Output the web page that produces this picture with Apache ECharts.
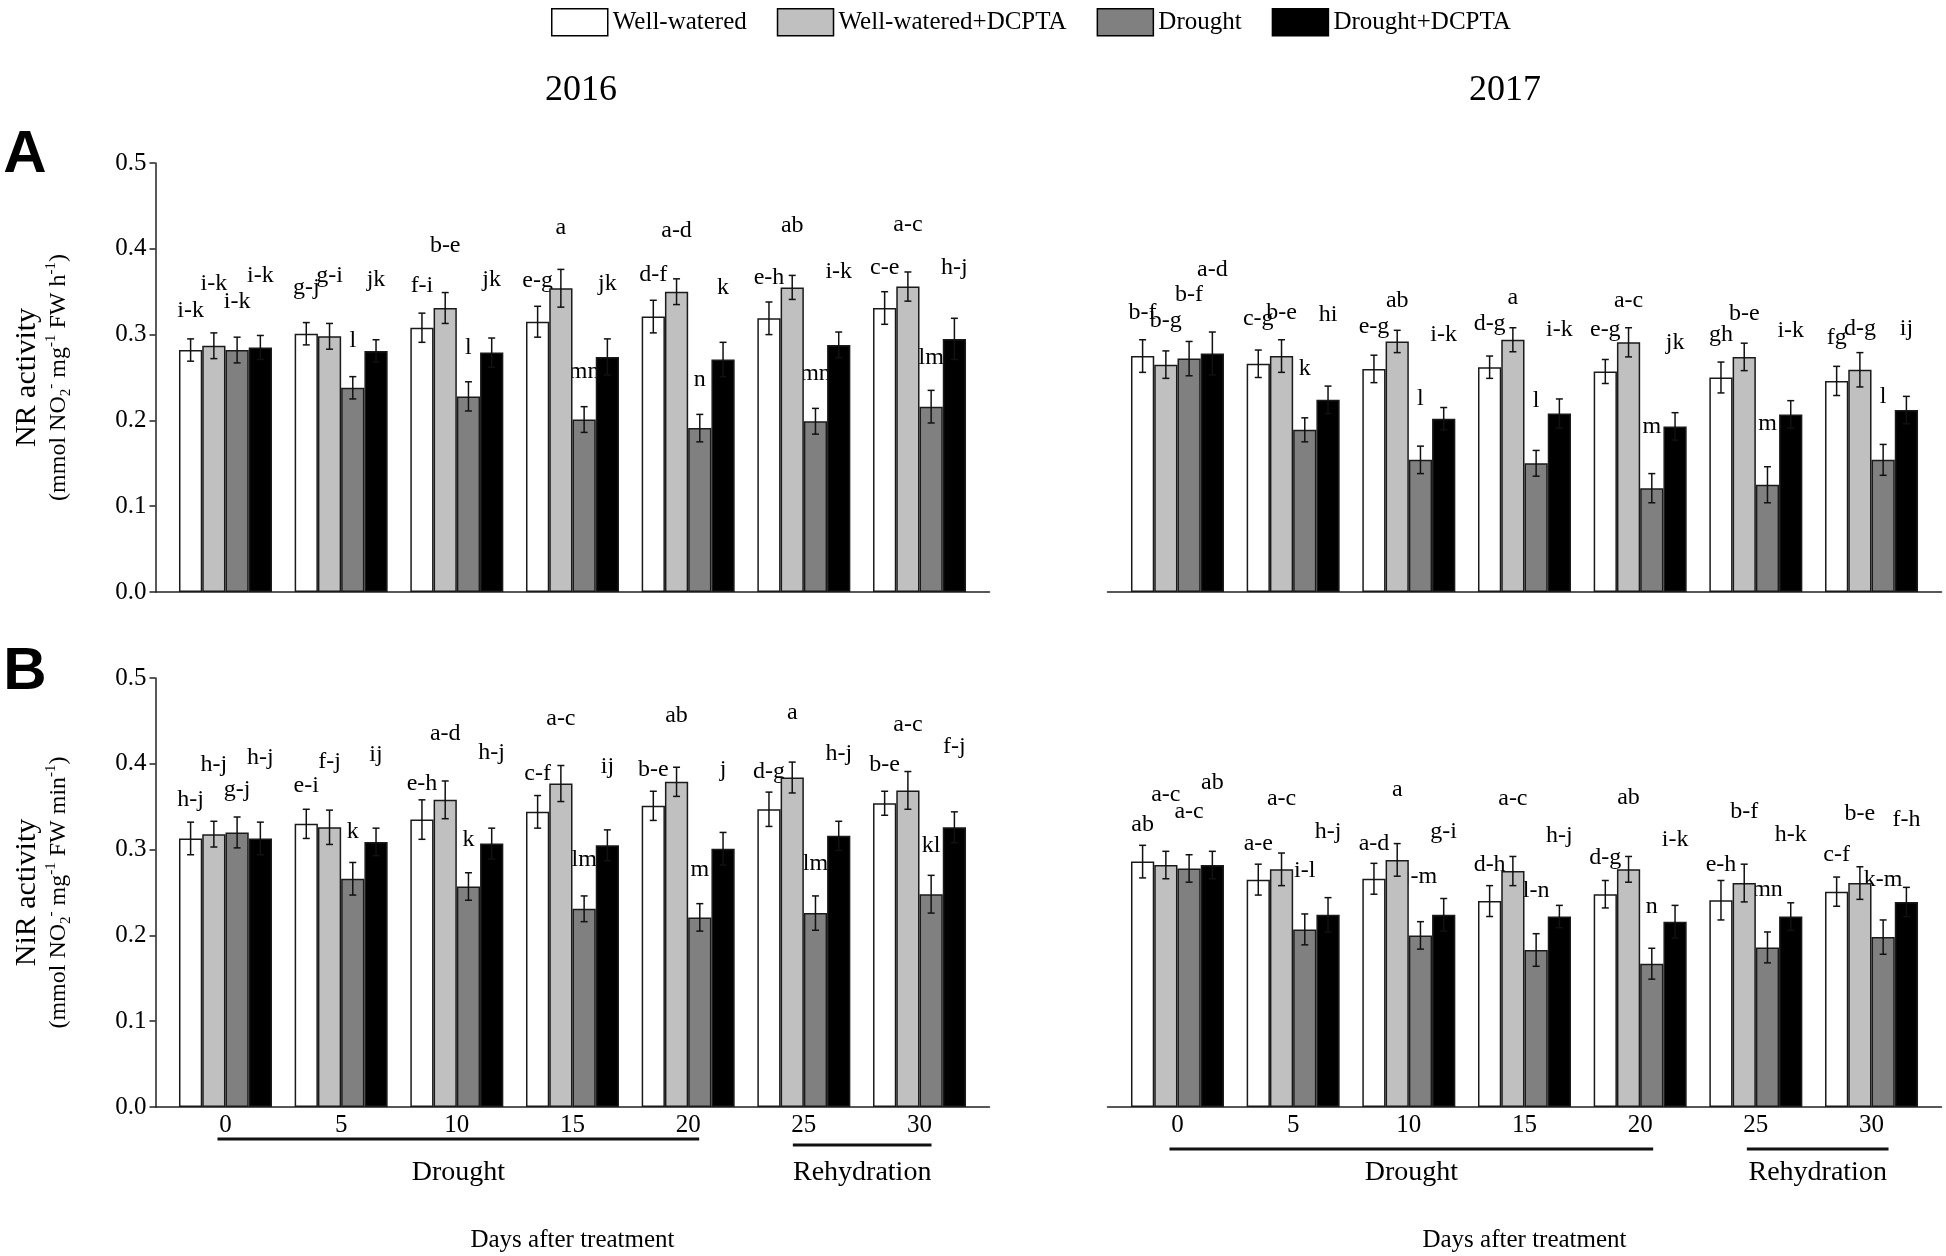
<!DOCTYPE html>
<html>
<head>
<meta charset="utf-8">
<script src="https://cdn.jsdelivr.net/npm/echarts@6/dist/echarts.min.js"></script>
<style>
html,body{margin:0;padding:0;background:#fff;}
#c{width:1946px;height:1256px;}
</style>
</head>
<body>
<div id="c"></div>
<script>
// ---------------- DATA ----------------
const days = ['0', '5', '10', '15', '20', '25', '30'];
const seriesNames = ['Well-watered', 'Well-watered+DCPTA', 'Drought', 'Drought+DCPTA'];
const yTicks = [0, 0.1, 0.2, 0.3, 0.4, 0.5];

// Panel A, 2016: NR activity (rows: Well-watered, WW+DCPTA, Drought, Drought+DCPTA)
const nr2016Mean = [
  [0.282, 0.301, 0.308, 0.315, 0.321, 0.319, 0.331],
  [0.287, 0.298, 0.331, 0.354, 0.350, 0.355, 0.356],
  [0.282, 0.238, 0.228, 0.201, 0.191, 0.199, 0.216],
  [0.285, 0.281, 0.279, 0.274, 0.271, 0.288, 0.295]
];
const nr2016Err = [
  [0.013, 0.013, 0.017, 0.018, 0.019, 0.019, 0.019],
  [0.015, 0.015, 0.018, 0.022, 0.015, 0.014, 0.017],
  [0.015, 0.013, 0.017, 0.015, 0.016, 0.015, 0.019],
  [0.014, 0.013, 0.017, 0.021, 0.020, 0.015, 0.024]
];
const nr2016Letters = [
  ['i-k', 'g-j', 'f-i', 'e-g', 'd-f', 'e-h', 'c-e'],
  ['i-k', 'g-i', 'b-e', 'a', 'a-d', 'ab', 'a-c'],
  ['i-k', 'l', 'l', 'mn', 'n', 'mn', 'lm'],
  ['i-k', 'jk', 'jk', 'jk', 'k', 'i-k', 'h-j']
];
const nr2016LetterY = [
  [0.328, 0.355, 0.357, 0.363, 0.370, 0.366, 0.378],
  [0.359, 0.369, 0.404, 0.425, 0.421, 0.427, 0.428],
  [0.338, 0.293, 0.285, 0.257, 0.247, 0.255, 0.273],
  [0.369, 0.364, 0.364, 0.359, 0.355, 0.373, 0.378]
];

// Panel A, 2017: NR activity
const nr2017Mean = [
  [0.275, 0.266, 0.260, 0.262, 0.257, 0.250, 0.246],
  [0.265, 0.275, 0.292, 0.294, 0.291, 0.274, 0.259],
  [0.272, 0.189, 0.154, 0.150, 0.121, 0.125, 0.154],
  [0.278, 0.224, 0.202, 0.208, 0.193, 0.207, 0.212]
];
const nr2017Err = [
  [0.019, 0.016, 0.016, 0.013, 0.014, 0.018, 0.017],
  [0.016, 0.019, 0.013, 0.014, 0.017, 0.016, 0.020],
  [0.020, 0.014, 0.016, 0.015, 0.017, 0.021, 0.018],
  [0.025, 0.016, 0.013, 0.017, 0.016, 0.016, 0.016]
];
const nr2017Letters = [
  ['b-f', 'c-g', 'e-g', 'd-g', 'e-g', 'gh', 'fg'],
  ['b-g', 'b-e', 'ab', 'a', 'a-c', 'b-e', 'd-g'],
  ['b-f', 'k', 'l', 'l', 'm', 'm', 'l'],
  ['a-d', 'hi', 'i-k', 'i-k', 'jk', 'i-k', 'ij']
];
const nr2017LetterY = [
  [0.326, 0.318, 0.309, 0.313, 0.306, 0.300, 0.296],
  [0.316, 0.326, 0.340, 0.343, 0.340, 0.324, 0.307],
  [0.346, 0.260, 0.225, 0.223, 0.193, 0.196, 0.228],
  [0.376, 0.323, 0.300, 0.306, 0.291, 0.305, 0.307]
];

// Panel B, 2016: NiR activity
const nir2016Mean = [
  [0.313, 0.330, 0.335, 0.344, 0.351, 0.347, 0.354],
  [0.318, 0.326, 0.358, 0.377, 0.379, 0.384, 0.369],
  [0.320, 0.266, 0.257, 0.231, 0.221, 0.226, 0.248],
  [0.313, 0.309, 0.307, 0.305, 0.301, 0.316, 0.326]
];
const nir2016Err = [
  [0.019, 0.017, 0.023, 0.019, 0.017, 0.020, 0.014],
  [0.015, 0.020, 0.022, 0.021, 0.017, 0.018, 0.022],
  [0.018, 0.019, 0.016, 0.015, 0.016, 0.020, 0.022],
  [0.019, 0.016, 0.018, 0.018, 0.019, 0.017, 0.018]
];
const nir2016Letters = [
  ['h-j', 'e-i', 'e-h', 'c-f', 'b-e', 'd-g', 'b-e'],
  ['h-j', 'f-j', 'a-d', 'a-c', 'ab', 'a', 'a-c'],
  ['g-j', 'k', 'k', 'lm', 'm', 'lm', 'kl'],
  ['h-j', 'ij', 'h-j', 'ij', 'j', 'h-j', 'f-j']
];
const nir2016LetterY = [
  [0.358, 0.374, 0.377, 0.388, 0.393, 0.391, 0.399],
  [0.399, 0.403, 0.435, 0.453, 0.456, 0.460, 0.445],
  [0.370, 0.321, 0.311, 0.288, 0.276, 0.283, 0.304],
  [0.407, 0.411, 0.413, 0.397, 0.393, 0.412, 0.420]
];

// Panel B, 2017: NiR activity
const nir2017Mean = [
  [0.286, 0.265, 0.266, 0.240, 0.248, 0.241, 0.251],
  [0.282, 0.277, 0.288, 0.275, 0.277, 0.261, 0.261],
  [0.278, 0.207, 0.200, 0.183, 0.167, 0.186, 0.198],
  [0.282, 0.224, 0.224, 0.222, 0.216, 0.222, 0.239]
];
const nir2017Err = [
  [0.019, 0.018, 0.018, 0.018, 0.016, 0.023, 0.017],
  [0.016, 0.019, 0.019, 0.017, 0.015, 0.022, 0.019],
  [0.016, 0.018, 0.016, 0.019, 0.018, 0.018, 0.020],
  [0.016, 0.020, 0.019, 0.013, 0.019, 0.016, 0.017]
];
const nir2017Letters = [
  ['ab', 'a-e', 'a-d', 'd-h', 'd-g', 'e-h', 'c-f'],
  ['a-c', 'a-c', 'a', 'a-c', 'ab', 'b-f', 'b-e'],
  ['a-c', 'i-l', 'j-m', 'l-n', 'n', 'mn', 'k-m'],
  ['ab', 'h-j', 'g-i', 'h-j', 'i-k', 'h-k', 'f-h']
];
const nir2017LetterY = [
  [0.329, 0.307, 0.307, 0.282, 0.290, 0.282, 0.294],
  [0.364, 0.359, 0.370, 0.359, 0.361, 0.344, 0.342],
  [0.344, 0.275, 0.268, 0.252, 0.233, 0.253, 0.265],
  [0.378, 0.321, 0.321, 0.316, 0.311, 0.317, 0.335]
];

// boundary (in category units) between drought and rehydration periods
const phaseBoundary = 5;

// ---------------- STYLE / LAYOUT ----------------
const SERIF = '"Liberation Serif", "Times New Roman", serif';
const SANS = '"Liberation Sans", Arial, sans-serif';
const COLORS = ['#ffffff', '#c0c0c0', '#808080', '#000000'];
const AXIS_COLOR = '#222';
const BAR_GAP = 0.196;
const PAD = 0.105;          // extra axis length beyond outer categories (category units)
const FRAME_W = 834;
const PLOT_H = 429;

const richName = {
  b: {fontFamily: SERIF, fontSize: 30, lineHeight: 32, color: '#000'},
  a: {fontFamily: SERIF, fontSize: 24, lineHeight: 30, color: '#000'},
  sub: {fontFamily: SERIF, fontSize: 15, lineHeight: 15, verticalAlign: 'bottom', color: '#000'},
  sup: {fontFamily: SERIF, fontSize: 15, lineHeight: 15, verticalAlign: 'top', color: '#000'}
};
const nrName = '{b|NR activity}\n{a|(mmol NO}{sub|2}{sup|-}{a| mg}{sup|-1}{a| FW h}{sup|-1}{a|)}';
const nirName = '{b|NiR activity}\n{a|(mmol NO}{sub|2}{sup|-}{a| mg}{sup|-1}{a| FW min}{sup|-1}{a|)}';

const PANELS = [
  {mean: nr2016Mean, err: nr2016Err, letters: nr2016Letters, ly: nr2016LetterY, left: 155.5, top: 163, yShow: true, xLabels: false, yName: nrName, dashTop: 0.518},
  {mean: nr2017Mean, err: nr2017Err, letters: nr2017Letters, ly: nr2017LetterY, left: 1107.5, top: 163, yShow: false, xLabels: false, yName: '', dashTop: 0.518},
  {mean: nir2016Mean, err: nir2016Err, letters: nir2016Letters, ly: nir2016LetterY, left: 155.5, top: 678, yShow: true, xLabels: true, yName: nirName, dashTop: 0.51},
  {mean: nir2017Mean, err: nir2017Err, letters: nir2017Letters, ly: nir2017LetterY, left: 1107.5, top: 678, yShow: false, xLabels: true, yName: '', dashTop: 0.51}
];

function barCenterX(api, cat, s, base) {
  const band = api.size([1, 0])[0];
  const bw = band * (1 - BAR_GAP) / 4;
  return base + (s - 1.5) * bw;
}

const grid = [], xAxis = [], yAxis = [], series = [];
PANELS.forEach((p, i) => {
  const fi = 2 * i, di = 2 * i + 1;
  const dataLeft = p.left + FRAME_W * PAD / (7 + 2 * PAD);
  const dataW = FRAME_W * 7 / (7 + 2 * PAD);
  grid.push({left: p.left, top: p.top, width: FRAME_W, height: PLOT_H});
  grid.push({left: dataLeft, top: p.top, width: dataW, height: PLOT_H});

  xAxis.push({
    gridIndex: fi, type: 'value', min: -PAD, max: 7 + PAD,
    axisLine: {show: true, onZero: false, lineStyle: {color: AXIS_COLOR, width: 1.5}},
    axisTick: {show: false}, axisLabel: {show: false}, splitLine: {show: false},
    name: p.xLabels ? 'Days after treatment' : '', nameLocation: 'middle', nameGap: 121,
    nameTextStyle: {fontFamily: SERIF, fontSize: 25, color: '#000'}
  });
  xAxis.push({
    gridIndex: di, type: 'category', data: days, boundaryGap: true,
    axisLine: {show: false}, axisTick: {show: false}, splitLine: {show: false},
    axisLabel: {show: p.xLabels, margin: 6, fontFamily: SERIF, fontSize: 25, color: '#000'}
  });
  yAxis.push({
    gridIndex: fi, type: 'value', min: yTicks[0], max: yTicks[yTicks.length - 1], interval: 0.1,
    show: p.yShow,
    axisLine: {show: true, onZero: false, lineStyle: {color: AXIS_COLOR, width: 1.5}},
    axisTick: {show: true, inside: false, length: 6, lineStyle: {color: AXIS_COLOR, width: 1.5}},
    axisLabel: {margin: 9, fontFamily: SERIF, fontSize: 25, color: '#000', formatter: v => v.toFixed(1)},
    splitLine: {show: false},
    name: p.yName, nameLocation: 'middle', nameRotate: 90, nameGap: 82,
    nameTextStyle: {fontFamily: SERIF, fontSize: 26, lineHeight: 32, color: '#000', rich: richName}
  });
  yAxis.push({gridIndex: di, type: 'value', min: 0, max: 0.5, show: false, splitLine: {show: false}});

  // letters (drawn under bars, as in the original)
  const letterData = [];
  for (let s = 0; s < 4; s++) for (let c = 0; c < 7; c++) letterData.push([c, s, p.ly[s][c]]);
  series.push({
    type: 'custom', xAxisIndex: di, yAxisIndex: di, data: letterData, encode: {x: 0, y: 2},
    z: 1, silent: true,
    renderItem: (params, api) => {
      const c = api.value(0), s = api.value(1), ly = api.value(2);
      const pt = api.coord([c, ly]);
      return {
        type: 'text', x: barCenterX(api, c, s, pt[0]), y: pt[1],
        style: {text: p.letters[s][c], fontFamily: SERIF, fontSize: 24, fill: '#000', align: 'center', verticalAlign: 'middle'}
      };
    }
  });

  // bars
  seriesNames.forEach((name, s) => {
    series.push({
      type: 'bar', name, xAxisIndex: di, yAxisIndex: di, data: p.mean[s],
      barGap: '0%', barCategoryGap: (BAR_GAP * 100) + '%', z: 2,
      itemStyle: {color: COLORS[s], borderColor: '#1a1a1a', borderWidth: 1.5}
    });
  });

  // error bars
  const errData = [];
  for (let s = 0; s < 4; s++) for (let c = 0; c < 7; c++) errData.push([c, s, p.mean[s][c], p.err[s][c]]);
  series.push({
    type: 'custom', xAxisIndex: di, yAxisIndex: di, data: errData, encode: {x: 0, y: 2},
    z: 3, silent: true,
    renderItem: (params, api) => {
      const c = api.value(0), s = api.value(1), m = api.value(2), e = api.value(3);
      const pt = api.coord([c, m]);
      const x = barCenterX(api, c, s, pt[0]);
      const yt = api.coord([c, m + e])[1];
      const yb = api.coord([c, m - e])[1];
      const cap = 3.5;
      const st = {stroke: '#111', lineWidth: 1.5};
      return {type: 'group', children: [
        {type: 'line', shape: {x1: x, y1: yt, x2: x, y2: yb}, style: st},
        {type: 'line', shape: {x1: x - cap, y1: yt, x2: x + cap, y2: yt}, style: st},
        {type: 'line', shape: {x1: x - cap, y1: yb, x2: x + cap, y2: yb}, style: st}
      ]};
    }
  });

  // dashed separator between drought and rehydration
  series.push({
    type: 'line', xAxisIndex: fi, yAxisIndex: fi, data: [], silent: true,
    markLine: {
      symbol: ['none', 'none'], silent: true, label: {show: false}, animation: false,
      lineStyle: {type: [4, 4], color: '#333', width: 1.5},
      data: [[{coord: [phaseBoundary, 0]}, {coord: [phaseBoundary, p.dashTop]}]]
    }
  });
});

const option = {
  animation: false,
  backgroundColor: '#fff',
  legend: {
    data: seriesNames.map(n => ({name: n, icon: 'rect'})),
    left: 546, top: 3, itemWidth: 56, itemHeight: 27, itemGap: 30,
    selectedMode: false,
    itemStyle: {borderColor: '#000', borderWidth: 1.5},
    textStyle: {fontFamily: SERIF, fontSize: 25, color: '#000'}
  },
  grid, xAxis, yAxis, series
};

const chart = echarts.init(document.getElementById('c'));
chart.setOption(option);

// ---------------- annotations positioned from the axes ----------------
const px = (i, c) => chart.convertToPixel({xAxisIndex: 2 * i + 1}, c);
const graphic = [];
function addText(text, x, y, size, font, weight) {
  graphic.push({type: 'text', x, y, silent: true,
    style: {text, fontFamily: font || SERIF, fontSize: size, fontWeight: weight || 'normal', fill: '#000', align: 'center', verticalAlign: 'middle'}});
}
function addLine(x1, x2, y) {
  graphic.push({type: 'line', silent: true, shape: {x1, y1: y, x2, y2: y}, style: {stroke: '#111', lineWidth: 3}});
}
addText('2016', 581, 91, 36);
addText('2017', 1505, 91, 36);
addText('A', 25, 155, 60, SANS, 'bold');
addText('B', 25, 672, 60, SANS, 'bold');

const phaseRows = [
  {panel: 2, dY: 1139, rY: 1145, d: [-8, 11], r: [-11, 12]},
  {panel: 3, dY: 1149, rY: 1149, d: [-8, 13], r: [-9, 17]}
];
phaseRows.forEach(r => {
  const d1 = px(r.panel, 0) + r.d[0], d2 = px(r.panel, 4) + r.d[1];
  const r1 = px(r.panel, 5) + r.r[0], r2 = px(r.panel, 6) + r.r[1];
  addLine(d1, d2, r.dY);
  addLine(r1, r2, r.rY);
  addText('Drought', (d1 + d2) / 2, 1173, 28);
  addText('Rehydration', (r1 + r2) / 2, 1173, 28);
});
chart.setOption({graphic});
</script>
</body>
</html>
